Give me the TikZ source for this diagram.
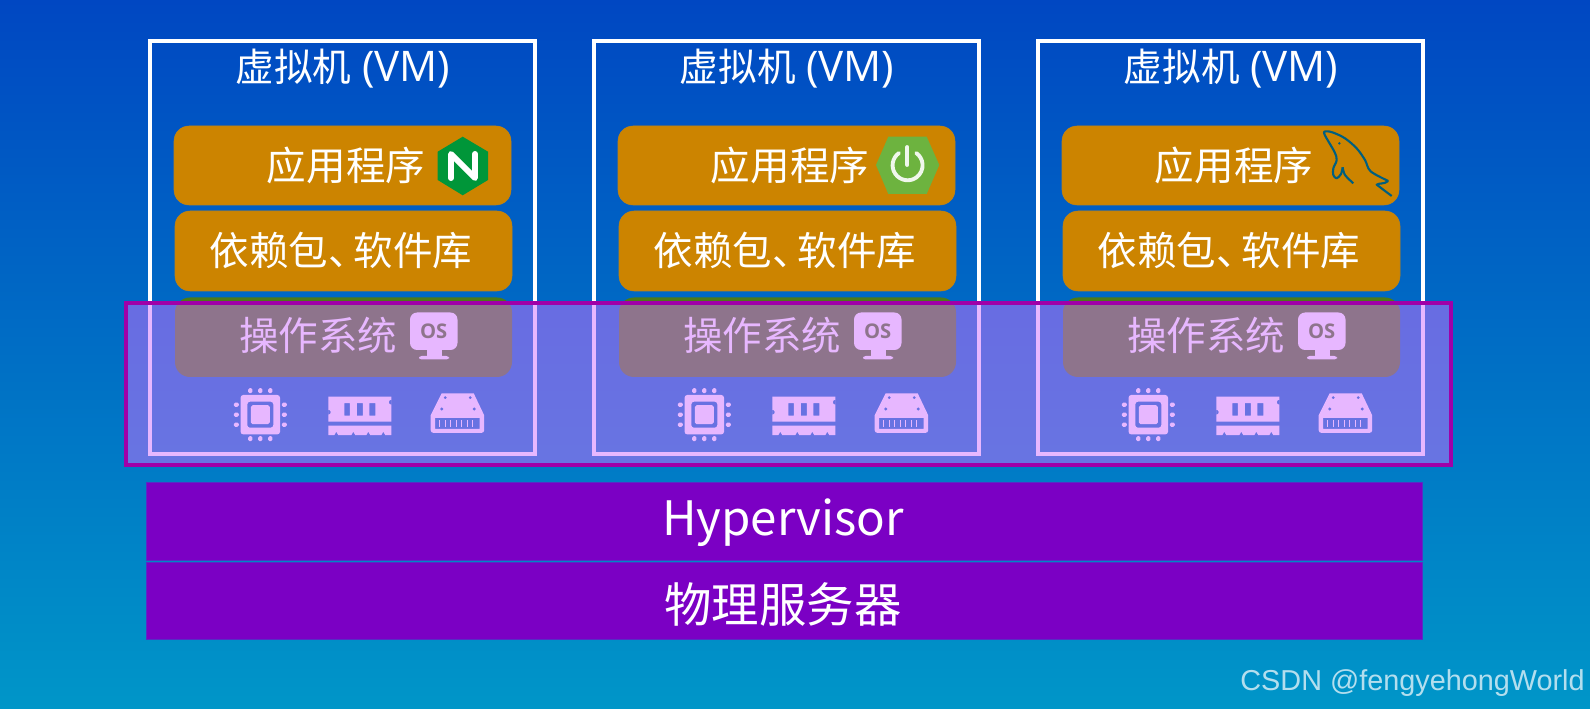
\documentclass[tikz,border=0pt]{standalone}
\usepackage{fontspec}
\setmainfont{Noto Sans CJK SC}
\newfontfamily\wmfont{Liberation Sans}
\newfontfamily\vmfont{Open Sans}
\usetikzlibrary{positioning, calc, shapes.geometric}
\definecolor{bgtop}{HTML}{0047C2}
\definecolor{bgbot}{HTML}{0096C8}
\definecolor{appor}{HTML}{CC8400}
\definecolor{soverde}{HTML}{4C7A19}
\definecolor{hvpur}{HTML}{7B00C4}
\definecolor{ovfill}{HTML}{D070FF}
\definecolor{ovline}{HTML}{A000A8}
\definecolor{ngxverde}{HTML}{009639}
\definecolor{sprverde}{HTML}{6DB33F}
\definecolor{sqlazul}{HTML}{005F7F}
\newcommand{\vmtitulo}{虚拟机\hspace{6pt}{\vmfont\fontsize{24}{24}\selectfont (VM)}}
% iconos, en pixeles de la imagen
\newcommand{\iconcpu}[1]{\begin{scope}[shift={(#1)}]
  \fill[white, even odd rule, rounded corners=1.5] (-19.7,-19.7) rectangle (19.7,19.7) (-13,-13) rectangle (13,13);
  \fill[white, rounded corners=1] (-9.5,-9.5) rectangle (9.5,9.5);
  \foreach \p in {-10,0,10} {
    \fill[white, rounded corners=0.8] (\p-2.1,-26.5) rectangle (\p+2.1,-21.5);
    \fill[white, rounded corners=0.8] (\p-2.1,21.5) rectangle (\p+2.1,26.5);
    \fill[white, rounded corners=0.8] (-26.5,\p-2.1) rectangle (-21.5,\p+2.1);
    \fill[white, rounded corners=0.8] (21.5,\p-2.1) rectangle (26.5,\p+2.1);
  }
\end{scope}}
\newcommand{\iconram}[1]{\begin{scope}[shift={(#1)}]
  \fill[white, even odd rule] (0,0) -- (63,0) -- (63,8) arc (90:270:2.5) -- (63,25) -- (0,25) -- (0,13) arc (-90:90:2.5) -- cycle
    (16,6.5) rectangle (21.5,19) (28.5,6.5) rectangle (34.5,19) (41,6.5) rectangle (47,19);
  \fill[white] (0,29) -- (63,29) -- (63,38.5) -- (57,38.5) -- (55,35) -- (53,38.5) -- (42,38.5) -- (40,35) -- (38,38.5) -- (27,38.5) -- (25,35) -- (23,38.5) -- (10,38.5) -- (8,35) -- (6,38.5) -- (0,38.5) -- cycle;
\end{scope}}
\newcommand{\icondisk}[1]{\begin{scope}[shift={(#1)}]
  \fill[white, even odd rule] (11,0) -- (43,0) -- (53.5,22) -- (53.5,37) arc (0:90:2.5) -- (2.5,39.5) arc (90:180:2.5) -- (0,22) -- cycle
    (4.5,24.5) rectangle (49,35.5)
    (14.5,4.3) circle (1.8) (39.5,4.3) circle (1.8) (11,15.7) circle (1.8) (43.5,15.7) circle (1.8);
  \foreach \p in {9,14.5,20,25.5,31,36.5,42} { \fill[white] (\p-0.7,26.5) rectangle (\p+0.7,33.5); }
\end{scope}}
\newcommand{\iconos}[2]{\begin{scope}[shift={(#1)}]
  \fill[white, rounded corners=4] (0,0) rectangle (47.5,37.5);
  \fill[white] (17,37) rectangle (32,44);
  \fill[white, rounded corners=1.5] (9,43.5) rectangle (39,47);
  \node[font=\vmfont\fontsize{11.5}{12}\selectfont\bfseries, text=soverde] (#2) at (23.7,19) {OS};
\end{scope}}
\newcommand{\delfin}[1]{\begin{scope}[shift={(#1)}, x=0.00667cm, y=-0.00667cm]
  \draw[sqlazul, line width=1.2pt, line join=round] plot[smooth, tension=0.55] coordinates {(190,220) (165,195) (158,172)};
  \draw[sqlazul, line width=1.2pt, line join=round] plot[smooth, tension=0.55] coordinates {(158,172) (153,192) (140,205) (130,195) (130,175) (140,150) (133,125) (103,72) (110,64) (130,68) (165,85) (200,115) (225,150) (242,184) (295,213)};
  \draw[sqlazul, line width=1.2pt, line join=round] (295,213) .. controls (280,224) and (270,218) .. (260,224) -- (305,258);
  \fill[sqlazul] (148,100) circle (4);
\end{scope}}
\begin{document}
\begin{tikzpicture}[x=0.02cm, y=-0.02cm,
    vmbox/.style={draw=white, line width=1.9pt},
    capa/.style={rectangle, rounded corners=0.3cm, fill=appor, draw=appor!80!gray, line width=0.3pt},
    capaso/.style={rectangle, rounded corners=0.3cm, fill=soverde},
    base/.style={fill=hvpur, draw=hvpur!70!bgbot, line width=0.3pt},
    titulo/.style={text=white, font=\fontsize{22}{24}\selectfont, inner sep=0pt},
    texto/.style={text=white, font=\fontsize{22.5}{24}\selectfont, inner sep=0pt},
    grande/.style={text=white, font=\fontsize{27}{30}\selectfont, inner sep=0pt}]

    \shade[top color=bgtop, bottom color=bgbot] (0,0) rectangle (1590,709);
    \useasboundingbox (0,0) rectangle (1590,709);

    % maquinas virtuales
    \draw[vmbox] (150,41) rectangle (535,454);
    \draw[vmbox] (594,41) rectangle (979,454);
    \draw[vmbox] (1038,41) rectangle (1423,454);
    \node[titulo] (vm1) at (343,69) {\vmtitulo};
    \node[titulo] (vm2) at (787,69) {\vmtitulo};
    \node[titulo] (vm3) at (1231,69) {\vmtitulo};

    % aplicaciones
    \draw[capa] (174,126) rectangle (511,205);
    \draw[capa] (618,126) rectangle (955,205);
    \draw[capa] (1062,126) rectangle (1399,205);
    \node[texto] (app1) at (346,165) {应用程序};
    \node[texto] (app2) at (790,165) {应用程序};
    \node[texto] (app3) at (1234,165) {应用程序};

    \fill[ngxverde] (462.7,136.7) -- (488,151.7) -- (488,180) -- (462.7,195.3) -- (437.7,180) -- (437.7,151.7) -- cycle;
    \draw[white, line width=3.4pt, line cap=round, line join=round] (451,178) -- (451,154) -- (475,178) -- (475,154);

    \fill[sprverde] (876,165) -- (888.3,136.7) -- (926.7,136.7) -- (939.3,165) -- (926.7,194) -- (888.3,194) -- cycle;
    \draw[white!90!sprverde, line width=2.2pt, line cap=round] (907.3,147) -- (907.3,165);
    \draw[white!90!sprverde, line width=2.2pt, line cap=round] (899,153) arc (235:-55:15);

    \delfin{1290,110}

    % dependencias
    \draw[capa] (175,211) rectangle (512,291);
    \draw[capa] (619,211) rectangle (956,291);
    \draw[capa] (1063,211) rectangle (1400,291);
    \node[texto] (dep1) at (341,250) {依赖包、\hspace{-8pt}软件库};
    \node[texto] (dep2) at (785,250) {依赖包、\hspace{-8pt}软件库};
    \node[texto] (dep3) at (1229,250) {依赖包、\hspace{-8pt}软件库};

    % sistema operativo
    \fill[capaso] (175,297.5) rectangle (512,377);
    \fill[capaso] (619,297.5) rectangle (956,377);
    \fill[capaso] (1063,297.5) rectangle (1400,377);
    \node[texto] (so1) at (318.4,335) {操作系统};
    \node[texto] (so2) at (762.4,335) {操作系统};
    \node[texto] (so3) at (1206.4,335) {操作系统};
    \iconos{410,312.5}{os1}
    \iconos{854,312.5}{os2}
    \iconos{1298,312.5}{os3}

    % hardware
    \iconcpu{260.3,414.7} \iconram{328.3,396.7} \icondisk{430.7,393.3}
    \iconcpu{704.3,414.7} \iconram{772.3,396.7} \icondisk{874.7,393.3}
    \iconcpu{1148.3,414.7} \iconram{1216.3,396.7} \icondisk{1318.7,393.3}

    % capa transparente
    \fill[ovfill, fill opacity=0.5] (124,301) rectangle (1453,467);
    \draw[ovline, line width=2.8pt] (126,303) rectangle (1451,465);

    % hipervisor y servidor
    \draw[base] (146.5,482) rectangle (1422,560);
    \draw[base] (146.5,562) rectangle (1422,639);
    \node[grande] (hyper) at (783,523) {Hypervisor};
    \node[grande] (fisico) at (783,604) {物理服务器};

    \node[text=white, opacity=0.7, font=\wmfont\fontsize{16.4}{17}\selectfont, inner sep=0pt, anchor=east] (marca) at (1585,683) {CSDN @fengyehongWorld};
\end{tikzpicture}
\end{document}
